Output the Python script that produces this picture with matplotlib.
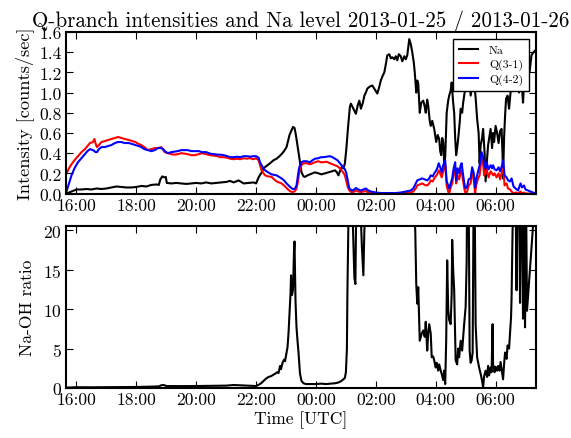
import matplotlib

matplotlib.use("Agg")
import matplotlib.dates as mdates
import matplotlib.pyplot as plt
import pandas as pd

TITLE = "Q-branch intensities and Na level 2013-01-25 / 2013-01-26"

# Na intensity (counts/sec)
na_time = [
    "15:40", "15:45", "15:50", "15:55", "16:00", "16:10", "16:20", "16:30", "16:40", "16:50",
    "17:00", "17:10", "17:20", "17:30", "17:40", "17:50", "18:00", "18:10", "18:20", "18:30",
    "18:40", "18:45", "18:48", "18:52", "18:56", "18:59", "19:01", "19:10", "19:20", "19:30",
    "19:40", "19:50", "20:00", "20:10", "20:20", "20:30", "20:40", "20:50", "21:00", "21:08",
    "21:15", "21:25", "21:35", "21:45", "21:55", "22:00", "22:05", "22:10", "22:15", "22:20",
    "22:28", "22:35", "22:41", "22:47", "22:51", "22:56", "23:01", "23:04", "23:07", "23:11",
    "23:14", "23:17", "23:19", "23:21", "23:24", "23:27", "23:31", "23:35", "23:38", "23:43",
    "23:48", "23:53", "23:58", "00:05", "00:11", "00:18", "00:25", "00:32", "00:38", "00:42",
    "00:45", "00:48", "00:51", "00:55", "00:58", "01:01", "01:04", "01:08", "01:10", "01:14",
    "01:17", "01:20", "01:24", "01:27", "01:30", "01:34", "01:37", "01:40", "01:43", "01:48",
    "01:53", "01:58", "02:03", "02:07", "02:10", "02:14", "02:17", "02:20", "02:23", "02:27",
    "02:30", "02:33", "02:37", "02:40", "02:43", "02:46", "02:50", "02:53", "02:57", "03:00",
    "03:03", "03:05", "03:07", "03:10", "03:13", "03:16", "03:18", "03:21", "03:23", "03:25",
    "03:28", "03:31", "03:35", "03:38", "03:40", "03:43", "03:45", "03:48", "03:50", "03:53",
    "03:57", "04:01", "04:04", "04:07", "04:09", "04:11", "04:13", "04:15", "04:17", "04:19",
    "04:22", "04:25", "04:27", "04:30", "04:32", "04:35", "04:37", "04:39", "04:41", "04:43",
    "04:45", "04:48", "04:50", "04:53", "04:55", "04:58", "05:00", "05:03", "05:05", "05:08",
    "05:10", "05:13", "05:17", "05:20", "05:23", "05:26", "05:28", "05:30", "05:33", "05:35",
    "05:38", "05:40", "05:43", "05:45", "05:48", "05:50", "05:53", "05:55", "05:57", "06:00",
    "06:03", "06:06", "06:09", "06:12", "06:14", "06:15", "06:17", "06:19", "06:21", "06:24",
    "06:27", "06:30", "06:32", "06:35", "06:37", "06:39", "06:42", "06:45", "06:47", "06:50",
    "06:53", "06:55", "06:58", "07:01", "07:05", "07:08", "07:12", "07:16", "07:20",
]
na_value = [
    0.00, 0.01, 0.02, 0.03, 0.04, 0.04, 0.045, 0.04, 0.05, 0.045,
    0.05, 0.06, 0.07, 0.065, 0.06, 0.06, 0.065, 0.075, 0.07, 0.085,
    0.09, 0.085, 0.14, 0.17, 0.16, 0.165, 0.105, 0.10, 0.105, 0.10,
    0.095, 0.10, 0.105, 0.10, 0.11, 0.10, 0.105, 0.11, 0.115, 0.125,
    0.11, 0.13, 0.10, 0.105, 0.11, 0.10, 0.16, 0.20, 0.25, 0.27,
    0.30, 0.33, 0.345, 0.37, 0.39, 0.42, 0.46, 0.52, 0.58, 0.625,
    0.66, 0.65, 0.60, 0.54, 0.44, 0.345, 0.21, 0.17, 0.165, 0.18,
    0.19, 0.20, 0.21, 0.20, 0.19, 0.20, 0.21, 0.22, 0.23, 0.21,
    0.18, 0.22, 0.26, 0.25, 0.30, 0.45, 0.64, 0.86, 0.89, 0.85,
    0.82, 0.79, 0.88, 0.92, 0.84, 0.90, 0.97, 1.00, 1.04, 1.06,
    1.07, 1.03, 0.99, 1.06, 1.12, 1.17, 1.20, 1.28, 1.37, 1.38,
    1.34, 1.35, 1.33, 1.36, 1.32, 1.38, 1.36, 1.31, 1.36, 1.33,
    1.37, 1.45, 1.53, 1.48, 1.40, 1.30, 1.20, 1.00, 1.12, 1.09,
    0.80, 0.90, 0.92, 0.86, 0.80, 0.93, 0.87, 0.72, 0.67, 0.72,
    0.64, 0.51, 0.58, 0.54, 0.42, 0.38, 0.55, 0.51, 0.30, 0.36,
    0.80, 0.92, 0.97, 1.02, 1.10, 0.90, 0.80, 0.55, 0.38, 0.45,
    0.54, 0.70, 0.84, 0.80, 0.90, 1.00, 1.07, 1.20, 1.30, 1.10,
    0.97, 1.05, 1.10, 0.95, 0.74, 0.60, 0.30, 0.48, 0.55, 0.64,
    0.40, 0.12, 0.35, 0.48, 0.58, 0.64, 0.45, 0.60, 0.51, 0.67,
    0.60, 0.50, 0.62, 0.64, 0.38, 0.15, 0.55, 0.77, 0.94, 0.97,
    0.84, 1.00, 1.10, 1.27, 1.15, 1.07, 1.37, 1.17, 1.00, 1.23,
    1.05, 0.90, 1.20, 1.10, 1.27, 1.20, 1.37, 1.40, 1.42,
]

# OH Q-branch intensities (counts/sec), shared time base
q_time = [
    "15:40", "15:45", "15:50", "15:56", "16:03", "16:10", "16:17", "16:22", "16:27", "16:33",
    "16:36", "16:38", "16:41", "16:45", "16:50", "16:57", "17:03", "17:10", "17:17", "17:23",
    "17:30", "17:37", "17:45", "17:52", "17:58", "18:05", "18:10", "18:16", "18:23", "18:30",
    "18:37", "18:43", "18:50", "18:54", "18:57", "19:03", "19:10", "19:17", "19:23", "19:30",
    "19:37", "19:43", "19:50", "19:57", "20:05", "20:12", "20:20", "20:28", "20:35", "20:43",
    "20:48", "20:55", "21:02", "21:08", "21:15", "21:22", "21:28", "21:35", "21:41", "21:48",
    "21:54", "22:00", "22:05", "22:08", "22:11", "22:15", "22:18", "22:24", "22:31", "22:36",
    "22:41", "22:46", "22:51", "22:56", "23:01", "23:05", "23:08", "23:12", "23:15", "23:18",
    "23:21", "23:24", "23:26", "23:28", "23:31", "23:35", "23:41", "23:48", "23:53", "23:58",
    "00:05", "00:10", "00:15", "00:21", "00:28", "00:33", "00:38", "00:43", "00:48", "00:53",
    "00:58", "01:01", "01:04", "01:07", "01:12", "01:17", "01:20", "01:25", "01:30", "01:35",
    "01:40", "01:45", "01:50", "01:55", "02:00", "02:10", "02:20", "02:30", "02:40", "02:50",
    "03:00", "03:05", "03:10", "03:15", "03:20", "03:23", "03:28", "03:33", "03:38", "03:43",
    "03:47", "03:50", "03:54", "03:57", "04:00", "04:03", "04:06", "04:09", "04:12", "04:15",
    "04:17", "04:19", "04:22", "04:25", "04:27", "04:30", "04:33", "04:36", "04:39", "04:41",
    "04:44", "04:47", "04:50", "04:52", "04:55", "04:58", "05:00", "05:03", "05:06", "05:10",
    "05:13", "05:16", "05:19", "05:21", "05:25", "05:28", "05:32", "05:35", "05:37", "05:40",
    "05:42", "05:46", "05:50", "05:53", "05:55", "05:58", "06:02", "06:06", "06:09", "06:13",
    "06:15", "06:18", "06:22", "06:25", "06:29", "06:32", "06:36", "06:40", "06:45", "06:50",
    "06:53", "06:57", "07:00", "07:05", "07:10", "07:15", "07:20",
]
q31_value = [
    0.20, 0.25, 0.29, 0.33, 0.37, 0.41, 0.44, 0.47, 0.50, 0.51,
    0.54, 0.50, 0.46, 0.48, 0.51, 0.52, 0.53, 0.54, 0.55, 0.56,
    0.55, 0.54, 0.53, 0.52, 0.51, 0.49, 0.48, 0.46, 0.43, 0.44,
    0.45, 0.45, 0.46, 0.43, 0.41, 0.40, 0.39, 0.385, 0.39, 0.40,
    0.395, 0.39, 0.38, 0.38, 0.39, 0.40, 0.39, 0.38, 0.375, 0.37,
    0.36, 0.36, 0.355, 0.345, 0.34, 0.345, 0.34, 0.35, 0.345, 0.35,
    0.34, 0.35, 0.33, 0.28, 0.23, 0.20, 0.18, 0.17, 0.165, 0.14,
    0.12, 0.11, 0.10, 0.08, 0.055, 0.035, 0.023, 0.016, 0.016, 0.025,
    0.05, 0.12, 0.20, 0.25, 0.28, 0.30, 0.30, 0.29, 0.30, 0.31,
    0.32, 0.31, 0.31, 0.315, 0.30, 0.29, 0.28, 0.27, 0.25, 0.22,
    0.18, 0.12, 0.06, 0.03, 0.01, 0.02, 0.03, 0.02, 0.015, 0.02,
    0.025, 0.01, 0.01, 0.005, 0.0, 0.0, 0.005, 0.0, 0.0, 0.005,
    0.005, 0.01, 0.01, 0.02, 0.05, 0.08, 0.09, 0.10, 0.085, 0.08,
    0.10, 0.13, 0.12, 0.15, 0.17, 0.19, 0.23, 0.20, 0.16, 0.22,
    0.25, 0.28, 0.08, 0.02, 0.0, 0.06, 0.10, 0.20, 0.26, 0.10,
    0.18, 0.14, 0.21, 0.23, 0.12, 0.03, 0.0, 0.02, 0.08, 0.10,
    0.21, 0.15, 0.0, 0.08, 0.15, 0.18, 0.35, 0.30, 0.18, 0.20,
    0.24, 0.16, 0.22, 0.20, 0.18, 0.20, 0.16, 0.20, 0.14, 0.22,
    0.28, 0.08, 0.10, 0.05, 0.04, 0.02, 0.0, 0.01, 0.0, 0.02,
    0.0, 0.01, 0.0, 0.0, 0.0, 0.0, 0.0,
]
q42_value = [
    0.02, 0.10, 0.18, 0.25, 0.31, 0.35, 0.39, 0.42, 0.44, 0.43,
    0.42, 0.41, 0.41, 0.44, 0.46, 0.46, 0.47, 0.48, 0.50, 0.51,
    0.51, 0.50, 0.50, 0.49, 0.48, 0.47, 0.46, 0.44, 0.43, 0.42,
    0.43, 0.45, 0.45, 0.44, 0.42, 0.40, 0.41, 0.415, 0.42, 0.43,
    0.43, 0.43, 0.42, 0.42, 0.42, 0.41, 0.41, 0.395, 0.39, 0.385,
    0.385, 0.38, 0.37, 0.36, 0.36, 0.365, 0.36, 0.37, 0.37, 0.365,
    0.37, 0.37, 0.355, 0.31, 0.28, 0.25, 0.23, 0.21, 0.19, 0.185,
    0.18, 0.165, 0.15, 0.13, 0.10, 0.08, 0.066, 0.05, 0.043, 0.05,
    0.08, 0.18, 0.25, 0.28, 0.31, 0.32, 0.32, 0.31, 0.33, 0.345,
    0.35, 0.36, 0.36, 0.365, 0.37, 0.36, 0.345, 0.33, 0.30, 0.27,
    0.24, 0.20, 0.12, 0.05, 0.03, 0.04, 0.055, 0.04, 0.03, 0.04,
    0.05, 0.03, 0.02, 0.015, 0.01, 0.005, 0.005, 0.005, 0.005, 0.01,
    0.02, 0.025, 0.03, 0.05, 0.10, 0.13, 0.14, 0.15, 0.14, 0.13,
    0.15, 0.18, 0.17, 0.20, 0.22, 0.25, 0.30, 0.26, 0.21, 0.28,
    0.31, 0.33, 0.12, 0.08, 0.05, 0.10, 0.15, 0.25, 0.31, 0.13,
    0.25, 0.20, 0.28, 0.30, 0.18, 0.08, 0.05, 0.07, 0.14, 0.15,
    0.26, 0.21, 0.06, 0.14, 0.22, 0.28, 0.41, 0.36, 0.28, 0.25,
    0.31, 0.24, 0.28, 0.25, 0.28, 0.24, 0.23, 0.26, 0.22, 0.28,
    0.33, 0.18, 0.16, 0.13, 0.12, 0.15, 0.07, 0.05, 0.03, 0.10,
    0.06, 0.08, 0.04, 0.03, 0.02, 0.01, 0.00,
]

# Na / OH ratio, bottom panel (values above 20.5 run off the axes)
ratio_time = [
    "15:40", "16:00", "16:30", "17:00", "17:30", "18:00", "18:30", "18:45", "18:50", "18:55",
    "19:00", "19:30", "20:00", "20:30", "21:00", "21:15", "21:30", "21:45", "22:00", "22:05",
    "22:10", "22:15", "22:20", "22:25", "22:30", "22:35", "22:38", "22:42", "22:45", "22:48",
    "22:50", "22:53", "22:56", "22:58", "23:01", "23:03", "23:05", "23:07", "23:09", "23:10",
    "23:12", "23:14", "23:16", "23:17", "23:18", "23:19", "23:21", "23:23", "23:25", "23:28",
    "23:31", "23:35", "23:40", "23:50", "00:00", "00:10", "00:20", "00:30", "00:38", "00:45",
    "00:50", "00:55", "00:58", "01:00", "01:02", "01:03", "01:05", "01:12", "01:17", "01:19",
    "01:21", "01:28", "01:32", "01:35", "01:37", "01:40", "03:15", "03:19", "03:21", "03:23",
    "03:25", "03:28", "03:32", "03:35", "03:38", "03:40", "03:43", "03:45", "03:47", "03:50",
    "03:52", "03:55", "03:57", "04:00", "04:02", "04:05", "04:07", "04:10", "04:12", "04:15",
    "04:17", "04:19", "04:21", "04:23", "04:25", "04:27", "04:30", "04:32", "04:33", "04:35",
    "04:37", "04:40", "04:43", "04:45", "04:47", "04:50", "04:53", "04:55", "04:57", "05:00",
    "05:02", "05:03", "05:06", "05:08", "05:10", "05:12", "05:14", "05:15", "05:16", "05:18",
    "05:20", "05:23", "05:27", "05:30", "05:33", "05:35", "05:37", "05:40", "05:43", "05:45",
    "05:47", "05:50", "05:52", "05:54", "05:55", "05:58", "06:00", "06:03", "06:05", "06:08",
    "06:10", "06:13", "06:15", "06:17", "06:19", "06:22", "06:24", "06:27", "06:29", "06:31",
    "06:32", "06:34", "06:36", "06:40", "06:42", "06:44", "06:47", "06:49", "06:51", "06:53",
    "06:55", "06:57", "06:59", "07:01", "07:03", "07:20",
]
ratio_value = [
    0.05, 0.10, 0.09, 0.10, 0.12, 0.13, 0.17, 0.20, 0.35, 0.38,
    0.25, 0.24, 0.25, 0.28, 0.30, 0.38, 0.34, 0.30, 0.25, 0.40,
    0.60, 0.90, 1.2, 1.4, 1.5, 1.7, 1.8, 2.0, 1.9, 2.8,
    2.4, 3.2, 3.6, 3.4, 4.5, 5.2, 7.0, 9.5, 12.0, 14.3,
    11.8, 12.5, 17.5, 18.6, 15.0, 11.0, 7.7, 6.0, 4.5, 1.8,
    0.9, 0.6, 0.5, 0.5, 0.5, 0.55, 0.5, 0.55, 0.6, 0.7,
    0.85, 1.1, 1.3, 2.0, 5.0, 12.0, 21.0, 25.0, 14.0, 13.2,
    25.0, 25.0, 18.0, 14.3, 20.0, 25.0, 25.0, 20.0, 13.2, 10.7,
    12.8, 6.0, 6.9, 7.3, 6.5, 8.4, 4.75, 7.0, 8.1, 6.9,
    3.9, 4.0, 3.5, 2.6, 3.2, 2.2, 3.0, 2.2, 1.8, 1.0,
    2.2, 0.5, 6.0, 16.2, 10.0, 8.6, 8.1, 12.0, 18.8, 15.0,
    12.4, 3.5, 3.0, 5.0, 3.9, 6.0, 4.75, 6.5, 8.1, 10.3,
    16.0, 25.0, 25.0, 4.75, 3.2, 3.5, 4.5, 14.0, 25.0, 25.0,
    8.1, 3.9, 2.6, 1.8, 0.9, 0.1, 1.5, 2.2, 1.4, 2.8,
    1.6, 2.6, 2.0, 8.1, 3.0, 2.0, 2.7, 2.2, 2.8, 2.2,
    3.3, 2.0, 1.1, 3.0, 4.5, 3.7, 5.4, 5.0, 7.1, 9.0,
    11.3, 19.8, 25.0, 25.0, 12.4, 25.0, 25.0, 10.8, 25.0, 25.0,
    8.8, 25.0, 7.7, 25.0, 9.8, 25.0,
]


def to_datetime(times):
    """Attach the right date: evening belongs to 25 Jan, morning to 26 Jan"""
    stamps = []
    for t in times:
        day = "2013-01-25" if int(t[:2]) >= 12 else "2013-01-26"
        stamps.append(f"{day} {t}")
    return pd.to_datetime(stamps)


def style_axes(ax):
    ax.xaxis.set_major_locator(mdates.HourLocator(byhour=range(0, 24, 2)))
    ax.xaxis.set_major_formatter(mdates.DateFormatter("%H:%M"))
    ax.set_xlim(pd.Timestamp("2013-01-25 15:39"), pd.Timestamp("2013-01-26 07:21"))
    ax.tick_params(which="both", direction="in", top=True, right=True,
                   length=5, width=0.8, labelsize=12.6, pad=3)
    for spine in ax.spines.values():
        spine.set_linewidth(1.5)


plt.rcParams["font.family"] = ["cmr10", "DejaVu Serif"]
plt.rcParams["mathtext.fontset"] = "cm"
plt.rcParams["axes.formatter.use_mathtext"] = True

assert len(na_time) == len(na_value)
assert len(q_time) == len(q31_value) == len(q42_value)
assert len(ratio_time) == len(ratio_value)

fig, (ax1, ax2) = plt.subplots(2, 1, figsize=(5.71, 4.39), dpi=100)
fig.subplots_adjust(left=0.1156, right=0.9387, top=0.9248, bottom=0.1139, hspace=0.204)

ax1.plot(to_datetime(na_time), na_value, color="k", lw=1.5, label="Na")
ax1.plot(to_datetime(q_time), q31_value, color="r", lw=1.5, label="Q(3-1)")
ax1.plot(to_datetime(q_time), q42_value, color="b", lw=1.5, label="Q(4-2)")
ax1.set_ylim(0, 1.6)
ax1.set_yticks([0.0, 0.2, 0.4, 0.6, 0.8, 1.0, 1.2, 1.4, 1.6])
ax1.yaxis.set_major_formatter(matplotlib.ticker.FormatStrFormatter("%.1f"))
ax1.set_ylabel("Intensity [counts/sec]", fontsize=13.2, labelpad=4)
ax1.set_title(TITLE, fontsize=15.2, pad=3.5)
style_axes(ax1)
leg = ax1.legend(loc="upper right", fontsize=8.5, fancybox=False, framealpha=1,
                 borderaxespad=0.6, handlelength=1.6, handletextpad=0.9,
                 labelspacing=0.3, borderpad=0.5)
leg.get_frame().set_edgecolor("k")
leg.get_frame().set_linewidth(1.0)

ax2.plot(to_datetime(ratio_time), ratio_value, color="k", lw=1.5)
ax2.set_ylim(0, 20.5)
ax2.set_yticks([0, 5, 10, 15, 20])
ax2.set_ylabel("Na-OH ratio", fontsize=12.6, labelpad=6)
ax2.set_xlabel("Time [UTC]", fontsize=12.5, labelpad=2)
style_axes(ax2)

fig.savefig("out.png", dpi=100)
